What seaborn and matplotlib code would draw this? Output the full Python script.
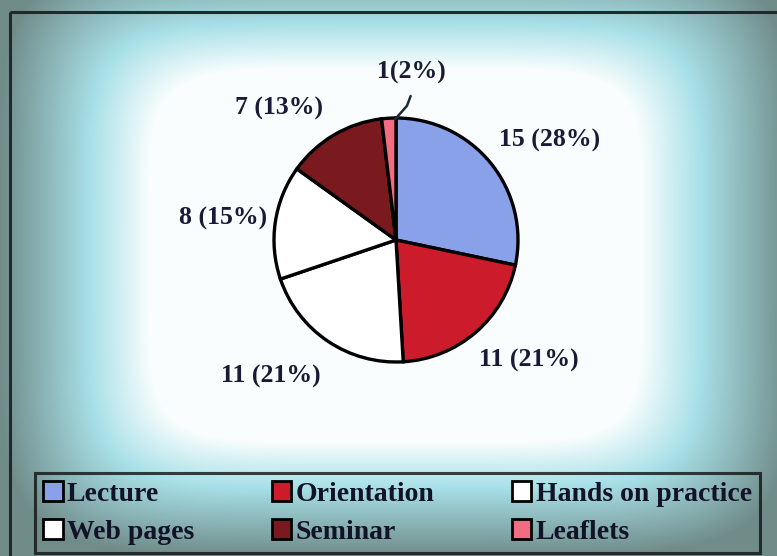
import numpy as np
import matplotlib
matplotlib.use("Agg")
import matplotlib.pyplot as plt
import seaborn as sns
from matplotlib.patches import Patch, Rectangle

categories = ["Lecture", "Orientation", "Hands on practice", "Web pages", "Seminar", "Leaflets"]
counts = [15, 11, 11, 8, 7, 1]
colors = ["#88a1e8", "#cc1c2c", "#ffffff", "#ffffff", "#7a1a1e", "#f26c82"]

sns.set_style("white")
plt.rcParams["font.family"] = ["Liberation Serif", "DejaVu Serif"]

W, H = 777, 556
fig = plt.figure(figsize=(W / 100, H / 100), dpi=100)

# photographic vignette background
yy, xx = np.mgrid[0:H, 0:W]
dx = np.abs(xx - 395) / 395.0
dy = np.abs(yy - 255) / 300.0
d = (dx ** 6 + dy ** 6) ** (1 / 6)
t = np.clip((d - 0.62) / 0.38, 0, 1)
white = np.array([0.98, 0.995, 0.995])
cyan = np.array([0.66, 0.88, 0.91])
gray = np.array([0.44, 0.55, 0.54])
t1 = np.clip(t / 0.4, 0, 1)[..., None]
t2 = np.clip((t - 0.4) / 0.6, 0, 1)[..., None]
img = white * (1 - t1) + cyan * t1
img = img * (1 - t2) + gray * t2
bg = fig.add_axes([0, 0, 1, 1], zorder=-5)
bg.imshow(img, aspect="auto", extent=[0, W, H, 0])
bg.set_xlim(0, W)
bg.set_ylim(H, 0)
bg.axis("off")
bg.add_patch(Rectangle((10, 12), W, H, fill=False, edgecolor="#1e2a2c", lw=2.2))

# pie axes: centre at (396, 240) px, radius 122 px
L = 1.8
S = 2 * L * 122
cx, cy = 396, 240
ax = fig.add_axes([(cx - S / 2) / W, (H - cy - S / 2) / H, S / W, S / H])
ax.set_facecolor("none")
wedges, _ = ax.pie(counts, colors=colors, startangle=90, counterclock=False,
                   wedgeprops=dict(edgecolor="black", linewidth=2.4))
ax.set_xlim(-L, L)
ax.set_ylim(-L, L)
ax.set_aspect("equal")
ax.axis("off")

total = sum(counts)
label_dist = [1.50, 1.47, 1.52, 1.43, 1.44, 1.38]
angle_shift = [-6, 7, -8.5, 1.5, 11, -8.5]
txt_kw = dict(fontsize=18.5, fontweight="bold", color="#1a1a36", ha="center", va="center")
for i, (w, c) in enumerate(zip(wedges, counts)):
    mid = np.deg2rad((w.theta1 + w.theta2) / 2 + angle_shift[i])
    pct = round(100 * c / total)
    sep = "" if c == 1 else " "
    x, y = label_dist[i] * np.cos(mid), label_dist[i] * np.sin(mid)
    ax.text(x, y, f"{c}{sep}({pct}%)", **txt_kw)
    if c == 1:
        a0 = np.deg2rad((w.theta1 + w.theta2) / 2)
        ax.plot([0.99 * np.cos(a0) + 0.05, 0.09, 0.12], [0.99 * np.sin(a0), 1.1, 1.18],
                color="#1c2a3a", lw=1.8)

handles = [Patch(facecolor=c, edgecolor="black", linewidth=2.0) for c in colors]
order = [0, 3, 1, 4, 2, 5]
leg = fig.legend([handles[i] for i in order], [categories[i] for i in order],
                 ncol=3, loc="lower left", mode="expand",
                 bbox_to_anchor=(35 / W, 3 / H, 725 / W, 82 / H),
                 prop=dict(family="Liberation Serif", weight="bold", size=20),
                 frameon=True, fancybox=False, handlelength=0.7, handleheight=0.7,
                 handletextpad=0.15, borderpad=0.3, labelspacing=0.45, columnspacing=0.5,
                 borderaxespad=0)
leg.get_frame().set_edgecolor("#111111")
leg.get_frame().set_linewidth(2.2)
leg.get_frame().set_facecolor("none")
for txt in leg.get_texts():
    txt.set_color("#121228")

fig.savefig("out.png", dpi=100)
